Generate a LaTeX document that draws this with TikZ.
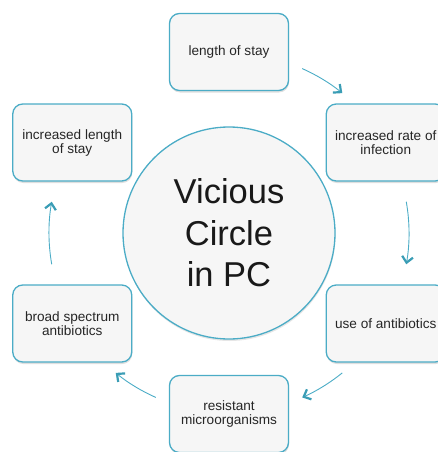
\documentclass[tikz,border=0pt]{standalone}
\usepackage{fontspec}
\setmainfont{Liberation Sans}
\usepackage{xcolor}
\usepackage{tikz}
\usetikzlibrary{positioning, calc, shadows, arrows.meta}

\definecolor{ringblue}{HTML}{4BACC6}
\definecolor{tipblue}{HTML}{3A9DB5}
\definecolor{boxfill}{HTML}{F6F6F6}
\definecolor{boxtext}{HTML}{262626}

\tikzset{
  stagebox/.style={draw=ringblue, line width=1.3pt, fill=boxfill, rounded corners=10pt,
    minimum width=119pt, minimum height=77pt, align=center, text=boxtext,
    font=\fontsize{13.6}{14}\selectfont,
    drop shadow={shadow xshift=0.5pt, shadow yshift=-2pt, opacity=0.25}},
  hub/.style={circle, draw=ringblue, line width=1.3pt, fill=boxfill, minimum size=212pt,
    inner sep=0pt, align=center, text=black!90, font=\fontsize{34.5}{41.5}\selectfont,
    drop shadow={shadow xshift=0.5pt, shadow yshift=-2pt, opacity=0.2}},
  cyc/.style={ringblue, line width=0.9pt,
    -{Straight Barb[length=6pt, width=11pt, line width=2.2pt, color=tipblue]}}
}

\begin{document}
\begin{tikzpicture}[x=1pt, y=1pt]
  \useasboundingbox (0,0) rectangle (438,-452);

  % Hub in the middle
  \node[hub] (vc) at (229,-233) {Vicious\\Circle\\in PC};

  % Stages round the hub
  \foreach \ang/\nm/\txt in {90/stay/{length of stay},
      30/rate/{increased rate of\\infection},
      -30/use/{use of antibiotics},
      -90/resist/{resistant\\microorganisms},
      -150/broad/{broad spectrum\\antibiotics},
      150/incstay/{increased length\\of stay}} {
    \node[stagebox] (\nm) at ($(vc)+(\ang:181pt)$) {\txt};
  }

  % Curved arrows between the stages
  \foreach \a/\b [count=\i] in {66/51, 10/-10, -51/-66, -114/-129, -170/-190} {
    \path (vc) ++(\a:180pt) coordinate (t\i);
    \draw[cyc] (t\i) arc[start angle=\a, end angle=\b, radius=180pt];
  }
\end{tikzpicture}
\end{document}
